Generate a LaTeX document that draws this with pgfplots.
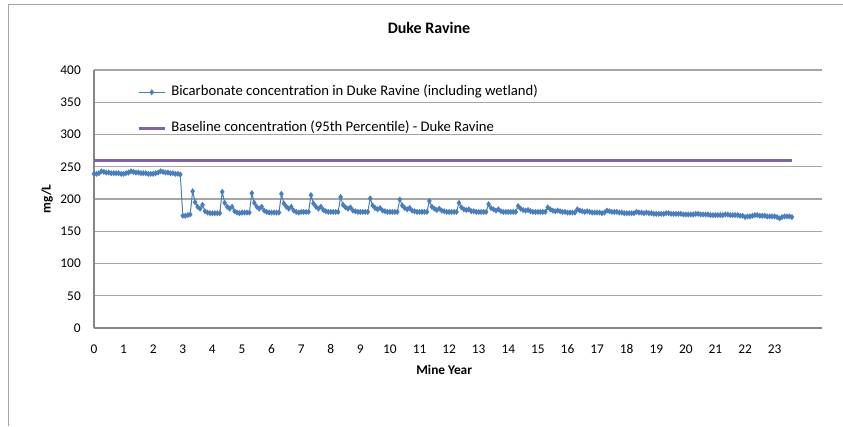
\documentclass[border=0pt]{standalone}
\usepackage{fontspec}
\setmainfont{Carlito}
\usepackage{pgfplots}
\pgfplotsset{compat=1.18}

\definecolor{serblue}{RGB}{74,126,187}
\definecolor{serpurple}{RGB}{128,100,162}
\definecolor{gridgray}{RGB}{166,166,166}
\definecolor{axisgray}{RGB}{134,134,134}

\begin{document}
\begin{tikzpicture}
% frame in pixel units of the reference (843 x 426)
\begin{scope}[x=0.75pt,y=0.75pt]
  \path[use as bounding box] (0,0) rectangle (843,426);
  \draw[gridgray, line width=0.75pt] (8,0) -- (8,421) -- (843,421);
  \node[font=\fontsize{12}{14}\selectfont\bfseries] at (429,398) {Duke Ravine};
\end{scope}

\begin{axis}[
    at={(70.5pt,73.5pt)}, anchor=south west,
    scale only axis, width=546pt, height=193.5pt,
    xmin=0, xmax=24.6, ymin=0, ymax=400,
    xtick={0,...,23}, ytick={0,50,...,400},
    axis lines*=left,
    axis line style={axisgray, line width=1.2pt, -},
    ymajorgrids, grid style={gridgray, line width=0.9pt},
    major tick length=0pt, tick style={draw=none},
    /pgf/number format/assume math mode=true,
    ticklabel style={font=\fontsize{10}{12}\selectfont},
    xticklabel style={yshift=-9pt},
    yticklabel style={xshift=-6.4pt},
    xlabel={\bfseries Mine Year},
    ylabel={\bfseries mg/L},
    label style={font=\fontsize{10}{12}\selectfont},
    x label style={at={(axis description cs:0.481,-0.1628)}, anchor=center},
    y label style={at={(axis description cs:-0.0646,0.5)}, anchor=center},
    legend style={at={(0.0591,0.9406)}, anchor=north west, draw=none, fill=none,
      inner sep=0pt, row sep=17pt, column sep=3.75pt,
      font=\fontsize{11}{13}\selectfont,
      nodes={inner sep=0pt, text height=7.5pt, text depth=2.5pt}},
    legend cell align=left,
    legend image code/.code={\draw[mark repeat=2,mark phase=2,#1]
      plot coordinates {(0pt,0pt) (9.75pt,0pt) (19.5pt,0pt)};},
  ]
  \addplot[serblue, line width=0.75pt, mark=diamond*, mark size=1.7pt,
    mark options={solid}]
    table[x expr=\coordindex/12, y=y, row sep=\\] {
      y\\
      239\\239\\240\\243\\242\\241\\241\\240\\240\\240\\240\\239\\
      239\\240\\241\\243\\242\\241\\241\\240\\240\\240\\239\\239\\
      239\\240\\241\\243\\242\\241\\241\\240\\240\\239\\239\\238\\
      174\\174\\175\\176\\212\\195\\188\\185\\191\\181\\179\\178\\
      178\\178\\178\\178\\211\\194\\188\\185\\188\\181\\179\\178\\
      179\\179\\179\\179\\209\\194\\188\\185\\188\\182\\180\\179\\
      179\\179\\179\\179\\208\\193\\188\\185\\188\\182\\180\\179\\
      180\\180\\180\\180\\206\\193\\188\\185\\188\\183\\181\\180\\
      180\\180\\180\\180\\203\\191\\187\\185\\187\\182\\181\\180\\
      180\\180\\180\\180\\201\\190\\186\\184\\186\\182\\181\\180\\
      180\\180\\180\\180\\199\\190\\186\\184\\186\\182\\181\\180\\
      180\\180\\180\\180\\197\\188\\185\\183\\185\\182\\181\\180\\
      180\\180\\180\\180\\194\\187\\184\\183\\184\\181\\181\\180\\
      180\\180\\180\\180\\192\\186\\184\\182\\184\\181\\180\\180\\
      180\\180\\180\\180\\189\\185\\183\\182\\183\\181\\180\\180\\
      180\\180\\180\\180\\187\\184\\182\\181\\182\\181\\180\\180\\
      179\\179\\179\\179\\184\\182\\181\\180\\181\\180\\179\\179\\
      179\\179\\178\\179\\182\\181\\180\\180\\180\\179\\179\\178\\
      178\\178\\178\\178\\180\\179\\179\\178\\179\\178\\178\\177\\
      177\\177\\177\\177\\178\\178\\177\\177\\177\\177\\177\\176\\
      176\\176\\176\\176\\177\\177\\176\\176\\176\\176\\175\\175\\
      175\\175\\175\\175\\176\\176\\175\\175\\175\\175\\174\\174\\
      172\\173\\173\\174\\175\\175\\174\\174\\174\\173\\173\\173\\
      173\\172\\170\\172\\173\\173\\173\\172\\
    };
  \addlegendentry{Bicarbonate concentration in Duke Ravine (including wetland)}
  \addplot[serpurple, line width=2.25pt] coordinates {(0,260) (23.58,260)};
  \addlegendentry{Baseline concentration (95th Percentile) - Duke Ravine}
\end{axis}
\end{tikzpicture}
\end{document}
